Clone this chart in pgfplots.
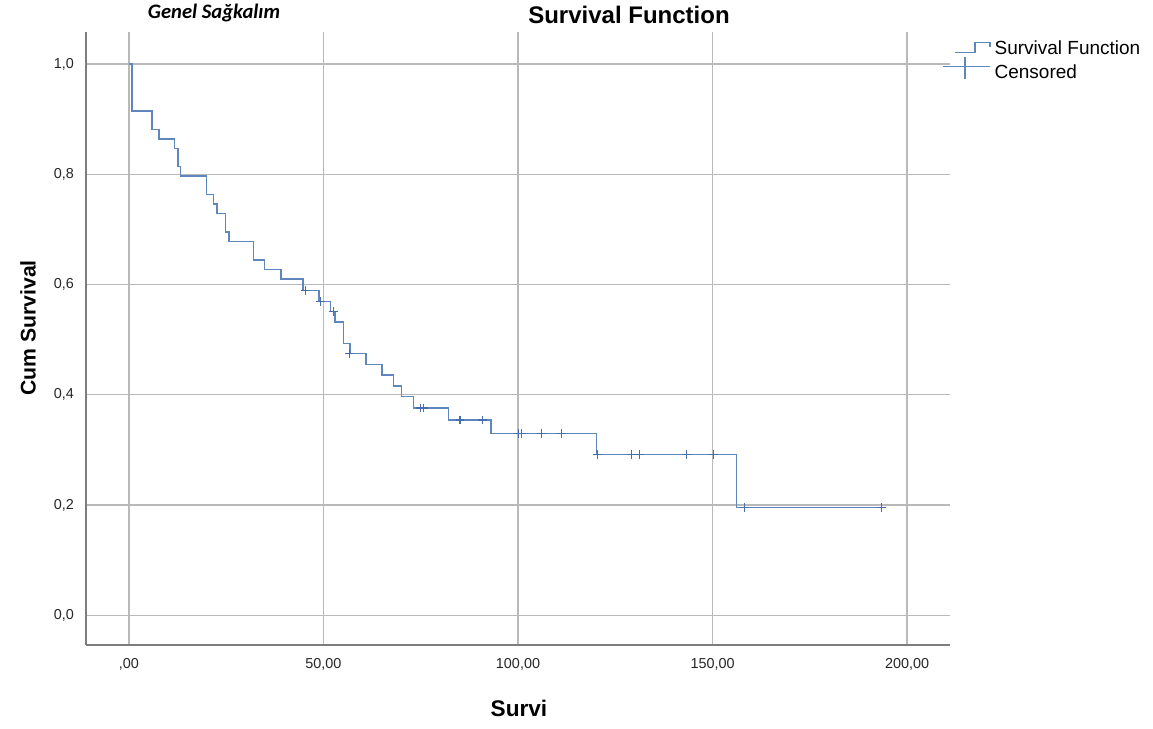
\documentclass[border=0pt]{standalone}
\usepackage{fontspec}
\setmainfont{Liberation Sans}
\newfontfamily\carlito{Carlito}
\usepackage{pgfplots}
\pgfplotsset{compat=1.18}
\definecolor{km}{RGB}{95,135,190}
\definecolor{kmc}{RGB}{70,110,175}
\definecolor{gridc}{RGB}{185,185,185}
\definecolor{spine}{RGB}{125,125,125}
\begin{document}
\begin{tikzpicture}
\useasboundingbox (0pt,0pt) rectangle (576.5pt,364.5pt);
\begin{axis}[
  at={(43pt,42pt)}, anchor=south west,
  scale only axis, width=432pt, height=306.5pt,
  xmin=-11, xmax=211, ymin=-0.054, ymax=1.058,
  axis x line*=bottom, axis y line*=left,
  x axis line style={-, spine, line width=1pt},
  y axis line style={-, spine, line width=1pt},
  grid=major, major grid style={gridc, line width=0.7pt},
  major tick length=0pt,
  xtick={0,50,100,150,200},
  xticklabels={{,00},{50,00},{100,00},{150,00},{200,00}},
  ytick={0,0.2,0.4,0.6,0.8,1.0},
  yticklabels={{0,0},{0,2},{0,4},{0,6},{0,8},{1,0}},
  tick label style={font=\fontsize{7.2}{8}\selectfont, text=black!85},
  xticklabel style={yshift=-3pt},
  yticklabel style={xshift=-2.5pt},
  legend style={at={(1,1)}, anchor=north west, xshift=-5pt, yshift=-1pt,
    draw=none, fill=none, font=\fontsize{9.5}{11}\selectfont,
    legend cell align=left, row sep=-2.5pt, inner sep=1pt},
  clip=false,
]
\addplot[km, line width=0.75pt, const plot,
  legend image code/.code={\draw[km, line width=0.6pt] (6pt,-2pt) -- (16pt,-2pt) -- (16pt,3pt) -- (23.5pt,3pt) -- (23.5pt,1pt);}]
coordinates {
(0,1.0) (0.85,0.915) (6.0,0.881) (7.8,0.864) (11.8,0.847) (12.7,0.814)
(13.3,0.797) (19.9,0.763) (21.8,0.746) (22.7,0.729) (24.9,0.695) (25.8,0.678)
(32.0,0.644) (34.8,0.627) (39.1,0.610) (44.8,0.589) (48.9,0.569) (51.8,0.551)
(53.0,0.532) (55.1,0.493) (56.8,0.475) (60.9,0.455) (65.0,0.436) (68.0,0.416)
(70.1,0.397) (73.1,0.376) (82.1,0.354) (93.0,0.330) (120.2,0.292) (156.2,0.195)
(194.0,0.195)
};
\addlegendentry{Survival Function}
\addplot[only marks, mark=+, mark size=2.2pt, kmc, mark options={line width=0.6pt},
  legend image code/.code={\draw[km, line width=0.6pt] (0pt,3pt) -- (23.5pt,3pt); \draw[km, line width=0.6pt] (11pt,-3pt) -- (11pt,8pt);}]
coordinates {
(45.3,0.589) (49.2,0.569) (52.5,0.551) (56.8,0.475) (75.0,0.376) (75.8,0.376)
(85.1,0.354) (90.9,0.354) (100.1,0.330) (100.9,0.330) (106.0,0.330) (111.1,0.330)
(120.4,0.292) (129.2,0.292) (131.2,0.292) (143.2,0.292) (150.2,0.292)
(158.1,0.195) (193.3,0.195)
};
\addlegendentry{Censored}
\end{axis}
\node[font=\bfseries\fontsize{12}{14}\selectfont] at (314.5pt,357pt) {Survival Function};
\node[font=\carlito\bfseries\itshape\fontsize{10.3}{12}\selectfont] at (107pt,358pt) {Genel Sağkalım};
\node[font=\bfseries\fontsize{10.6}{13}\selectfont, rotate=90] at (14pt,200.5pt) {Cum Survival};
\node[font=\bfseries\fontsize{11.3}{13}\selectfont] at (259.5pt,10.5pt) {Survi};
\end{tikzpicture}
\end{document}
